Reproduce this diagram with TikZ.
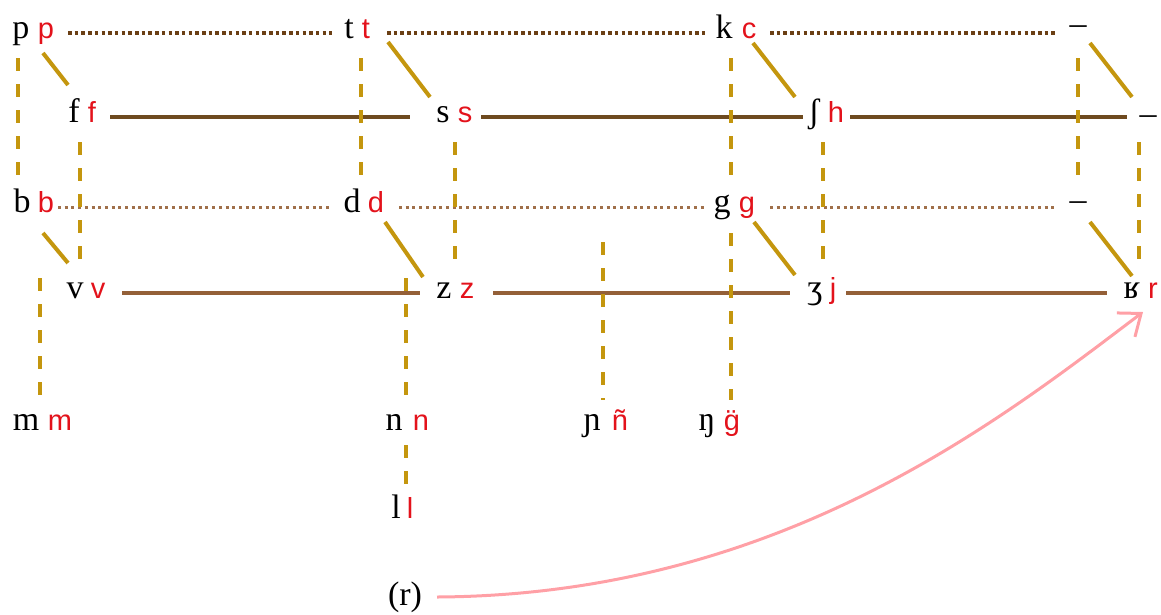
\documentclass[tikz,border=0pt]{standalone}
\usepackage{fontspec}
\setmainfont{Liberation Serif}
\newfontfamily\orthfont{Liberation Sans}
\usepackage{tikz}
\usetikzlibrary{arrows.meta}
\definecolor{phgold}{HTML}{C4960E}
\definecolor{phred}{HTML}{E3121B}
\definecolor{phdark}{HTML}{6B3F14}
\definecolor{phbar}{HTML}{6E4A1F}
\definecolor{phlight}{HTML}{A0704A}
\definecolor{phvbar}{HTML}{946038}
\definecolor{phpink}{HTML}{FFA0A6}
\tikzset{
  ipa/.style={font=\fontsize{34}{40}\selectfont,text height=20pt,text depth=10pt,inner sep=0pt},
  orth/.style={ipa,font=\orthfont\fontsize{29}{35}\selectfont,text=phred},
  stopdots/.style={draw=phdark,line width=3.5pt,dash pattern=on 3.5pt off 3.2pt},
  vstopdots/.style={draw=phlight,line width=3pt,dash pattern=on 3pt off 3.7pt},
  fricbar/.style={draw=phbar,line width=4pt},
  vfricbar/.style={draw=phvbar,line width=4pt},
  link/.style={draw=phgold,line width=4pt,dash pattern=on 13pt off 13pt},
  slant/.style={draw=phgold,line width=4pt},
  rhotic/.style={draw=phpink,line width=3pt,-{Straight Barb[length=19pt,width=30pt]}}
}
\begin{document}
\begin{tikzpicture}[x=1pt,y=-1pt]
  \useasboundingbox (0,0) rectangle (1161,614);
  % voiceless stops
  \node[ipa] (p) at (21,33) {p};
  \node[orth] (p2) at (46,33) {p};
  \node[ipa] (t) at (349,33) {t};
  \node[orth] (t2) at (366,33) {t};
  \node[ipa] (k) at (724,33) {k};
  \node[orth] (c2) at (749,33) {c};
  \node[ipa] (ka) at (1078,29) {–};
  % voiceless fricatives
  \node[ipa] (f) at (74,117) {f};
  \node[orth] (f2) at (92,117) {f};
  \node[ipa] (s) at (443,117) {s};
  \node[orth] (s2) at (465,117) {s};
  \node[ipa] (sh) at (814,117) {ʃ};
  \node[orth] (h2) at (836,117) {h};
  \node[ipa] (xa) at (1148,119) {–};
  % voiced stops
  \node[ipa] (b) at (22,207) {b};
  \node[orth] (b2) at (46,207) {b};
  \node[ipa] (d) at (352,207) {d};
  \node[orth] (d2) at (376,207) {d};
  \node[ipa] (g) at (722,207) {g};
  \node[orth] (g2) at (747,207) {g};
  \node[ipa] (ga) at (1078,205) {–};
  % voiced fricatives
  \node[ipa] (v) at (75,293) {v};
  \node[orth] (v2) at (98,293) {v};
  \node[ipa] (z) at (444,293) {z};
  \node[orth] (z2) at (467,293) {z};
  \node[ipa] (zh) at (815,293) {ʒ};
  \node[orth] (j2) at (833,293) {j};
  \node[ipa] (rr) at (1132,293) {ʁ};
  \node[orth] (r2) at (1153,293) {r};
  % nasals, lateral
  \node[ipa] (m) at (26,425) {m};
  \node[orth] (m2) at (60,425) {m};
  \node[ipa] (n) at (394,425) {n};
  \node[orth] (n2) at (421,425) {n};
  \node[ipa] (ny) at (592,425) {ɲ};
  \node[orth] (ny2) at (620,425) {ñ};
  \node[ipa] (ng) at (707,425) {ŋ};
  \node[orth] (ng2) at (732,425) {\"g};
  \node[ipa] (l) at (396,513) {l};
  \node[orth] (l2) at (410,513) {l};
  \node[ipa] (rnote) at (405,600) {(r)};
  \coordinate (rtip) at ([shift={(-10,19)}]r2.center);
  % rows
  \draw[stopdots] ([shift={(22,0)}]p2.center) -- ([shift={(-17,0)}]t.center);
  \draw[stopdots] ([shift={(21,0)}]t2.center) -- ([shift={(-16,0)}]k.center);
  \draw[stopdots] ([shift={(21,0)}]c2.center) -- ([shift={(-20,4)}]ka.center);
  \draw[fricbar] ([shift={(18,0)}]f2.center) -- ([shift={(-33,0)}]s.center);
  \draw[fricbar] ([shift={(16,0)}]s2.center) -- ([shift={(-11,0)}]sh.center);
  \draw[fricbar] ([shift={(14,0)}]h2.center) -- ([shift={(-21,-2)}]xa.center);
  \draw[vstopdots] ([shift={(12,0)}]b2.center) -- ([shift={(-20,0)}]d.center);
  \draw[vstopdots] ([shift={(23,0)}]d2.center) -- ([shift={(-17,0)}]g.center);
  \draw[vstopdots] ([shift={(23,0)}]g2.center) -- ([shift={(-20,2)}]ga.center);
  \draw[vfricbar] ([shift={(24,0)}]v2.center) -- ([shift={(-24,0)}]z.center);
  \draw[vfricbar] ([shift={(26,0)}]z2.center) -- ([shift={(-25,0)}]zh.center);
  \draw[vfricbar] ([shift={(13,0)}]j2.center) -- ([shift={(-25,0)}]rr.center);
  % voicing
  \draw[link] ([shift={(-3,25)}]p.center) -- ([shift={(-4,-29)}]b.center);
  \draw[link] ([shift={(12,25)}]t.center) -- ([shift={(9,-29)}]d.center);
  \draw[link] ([shift={(7,25)}]k.center) -- ([shift={(9,-29)}]g.center);
  \draw[link] ([shift={(0,29)}]ka.center) -- ([shift={(0,-27)}]ga.center);
  \draw[link] ([shift={(6,25)}]f.center) -- ([shift={(5,-31)}]v.center);
  \draw[link] ([shift={(12,25)}]s.center) -- ([shift={(11,-31)}]z.center);
  \draw[link] ([shift={(9,25)}]sh.center) -- ([shift={(8,-31)}]zh.center);
  \draw[link] ([shift={(-9,23)}]xa.center) -- ([shift={(7,-31)}]rr.center);
  % nasality
  \draw[link] ([shift={(9,26)}]g.center) -- ([shift={(24,-25)}]ng.center);
  \draw[link] ([shift={(14,-147)}]m.center) -- ++(0,122);
  \draw[link] ([shift={(12,-147)}]n.center) -- ++(0,122);
  \draw[link] ([shift={(11,-183)}]ny.center) -- ++(0,158);
  \draw[link] ([shift={(12,20)}]n.center) -- ([shift={(10,-23)}]l.center);
  % frication
  \draw[slant] ([shift={(-3,20)}]p2.center) -- ([shift={(-6,-32)}]f.center);
  \draw[slant] ([shift={(22,9)}]t2.center) -- ([shift={(-13,-20)}]s.center);
  \draw[slant] ([shift={(4,10)}]c2.center) -- ([shift={(-19,-20)}]sh.center);
  \draw[slant] ([shift={(12,14)}]ka.center) -- ([shift={(-16,-22)}]xa.center);
  \draw[slant] ([shift={(-3,26)}]b2.center) -- ([shift={(-7,-30)}]v.center);
  \draw[slant] ([shift={(9,15)}]d2.center) -- ([shift={(-21,-16)}]z.center);
  \draw[slant] ([shift={(7,15)}]g2.center) -- ([shift={(-20,-18)}]zh.center);
  \draw[slant] ([shift={(12,17)}]ga.center) -- ([shift={(0,-17)}]rr.center);
  \draw[rhotic] ([shift={(32,-3)}]rnote.center) .. controls +(343,-2) and +(-143,108) .. (rtip);
\end{tikzpicture}
\end{document}
